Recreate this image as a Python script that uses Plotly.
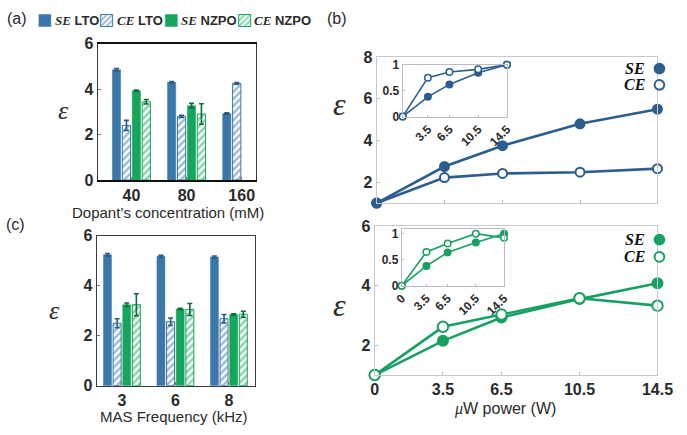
import plotly.graph_objects as go

# ---------------- data ----------------
conc_labels = ["40", "80", "160"]
a_se_lto = [4.85, 4.30, 2.92]
a_se_lto_err = [0.05, 0.03, 0.03]
a_ce_lto = [2.40, 2.80, 4.25]
a_ce_lto_err = [0.22, 0.05, 0.04]
a_se_nzpo = [3.93, 3.27, None]
a_se_nzpo_err = [0.03, 0.10, 0]
a_ce_nzpo = [3.44, 2.90, None]
a_ce_nzpo_err = [0.10, 0.45, 0]

mas_labels = ["3", "6", "8"]
c_se_lto = [5.24, 5.18, 5.15]
c_se_lto_err = [0.05, 0.04, 0.04]
c_ce_lto = [2.50, 2.56, 2.68]
c_ce_lto_err = [0.18, 0.15, 0.17]
c_se_nzpo = [3.24, 3.07, 2.85]
c_se_nzpo_err = [0.07, 0.03, 0.03]
c_ce_nzpo = [3.24, 3.05, 2.86]
c_ce_nzpo_err = [0.44, 0.24, 0.12]

power = [0, 3.5, 6.5, 10.5, 14.5]
power_labels = ["0", "3.5", "6.5", "10.5", "14.5"]
lto_se = [1.0, 2.75, 3.75, 4.80, 5.50]
lto_ce = [1.0, 2.22, 2.42, 2.48, 2.65]
nzpo_se = [1.0, 2.15, 2.93, 3.55, 4.08]
nzpo_ce = [1.0, 2.62, 3.03, 3.58, 3.33]
lto_se_norm = [0, 0.38, 0.62, 0.845, 1.0]
lto_ce_norm = [0, 0.75, 0.86, 0.91, 1.0]
nzpo_se_norm = [0, 0.38, 0.64, 0.83, 1.0]
nzpo_ce_norm = [0, 0.65, 0.81, 1.0, 0.92]

# ---------------- style ----------------
W, H = 687, 435
BAR_BLUE = "#3b78a9"
BAR_GREEN = "#15a65c"
ERR_BLUE = "#2b5a85"
ERR_GREEN = "#0d6b3c"
LINE_BLUE = "#2c5d8e"
LINE_GREEN = "#18a062"
SANS = "Liberation Sans"
SERIF = "Liberation Serif"
TXT = "#2a2a2a"


def px(x):
    return x / W


def py(y):
    return 1 - y / H


fig = go.Figure()


def add_bars(xaxis, yaxis, cats, vals, errs, name, color, errcolor, hatched, legend, showlegend):
    if hatched:
        marker = dict(color="white",
                      pattern=dict(shape="/", fgcolor=color, bgcolor="white", size=5, solidity=0.5),
                      line=dict(color=color, width=1))
    else:
        marker = dict(color=color, line=dict(color=color, width=0.5))
    fig.add_trace(go.Bar(
        x=cats, y=vals, name=name, marker=marker,
        error_y=dict(type="data", array=errs, color=errcolor, thickness=1.6, width=2.5),
        xaxis=xaxis, yaxis=yaxis, legend=legend, showlegend=showlegend,
    ))


se = f'<span style="font-family:{SERIF}"><b><i>SE</i></b></span>'
ce = f'<span style="font-family:{SERIF}"><b><i>CE</i></b></span>'
series_names = [f"{se} <b>LTO</b>", f"{ce} <b>LTO</b>", f"{se} <b>NZPO</b>", f"{ce} <b>NZPO</b>"]

# legend swatches only (text is placed as annotations for tight spacing)
add_bars("x", "y", conc_labels, a_se_lto, a_se_lto_err, " ", BAR_BLUE, ERR_BLUE, False, "legend", True)
add_bars("x", "y", conc_labels, a_ce_lto, a_ce_lto_err, " ", BAR_BLUE, ERR_BLUE, True, "legend2", True)
add_bars("x", "y", conc_labels, a_se_nzpo, a_se_nzpo_err, " ", BAR_GREEN, ERR_GREEN, False, "legend3", True)
add_bars("x", "y", conc_labels, a_ce_nzpo, a_ce_nzpo_err, " ", BAR_GREEN, ERR_GREEN, True, "legend4", True)

add_bars("x2", "y2", mas_labels, c_se_lto, c_se_lto_err, " ", BAR_BLUE, ERR_BLUE, False, "legend", False)
add_bars("x2", "y2", mas_labels, c_ce_lto, c_ce_lto_err, " ", BAR_BLUE, ERR_BLUE, True, "legend", False)
add_bars("x2", "y2", mas_labels, c_se_nzpo, c_se_nzpo_err, " ", BAR_GREEN, ERR_GREEN, False, "legend", False)
add_bars("x2", "y2", mas_labels, c_ce_nzpo, c_ce_nzpo_err, " ", BAR_GREEN, ERR_GREEN, True, "legend", False)


def add_line(xaxis, yaxis, yvals, color, filled, size, lw):
    fig.add_trace(go.Scatter(
        x=power, y=yvals, mode="lines+markers", showlegend=False,
        line=dict(color=color, width=lw),
        marker=dict(size=size, color=color if filled else "white",
                    line=dict(color=color, width=2 if size > 7 else 1.5)),
        xaxis=xaxis, yaxis=yaxis, cliponaxis=False,
    ))


add_line("x3", "y3", lto_ce, LINE_BLUE, False, 9, 2.6)
add_line("x3", "y3", lto_se, LINE_BLUE, True, 9, 2.6)
add_line("x4", "y4", nzpo_se, LINE_GREEN, True, 10, 2.6)
add_line("x4", "y4", nzpo_ce, LINE_GREEN, False, 10.5, 2.6)
add_line("x5", "y5", lto_se_norm, LINE_BLUE, True, 6.5, 1.6)
add_line("x5", "y5", lto_ce_norm, LINE_BLUE, False, 6.5, 1.6)
add_line("x6", "y6", nzpo_se_norm, LINE_GREEN, True, 6.5, 1.6)
add_line("x6", "y6", nzpo_ce_norm, LINE_GREEN, False, 6.5, 1.6)

# ---------------- axes ----------------
bar_axis_common = dict(showline=True, linecolor="#3a3a3a", linewidth=1.4, mirror=True,
                       ticks="inside", ticklen=3, tickcolor="#777", showgrid=False, zeroline=False,
                       tickfont=dict(family=SANS, size=16, color=TXT, weight="bold"))
b_axis_common = dict(showline=True, linecolor="#c9c9c9", linewidth=1, mirror=True,
                     ticks="inside", ticklen=3, tickcolor="#bdbdbd", showgrid=False, zeroline=False,
                     tickfont=dict(family=SANS, size=16, color=TXT, weight="bold"))
inset_common = dict(showline=True, linecolor="#bdbdbd", linewidth=1, mirror=True,
                    ticks="inside", ticklen=2, tickcolor="#bdbdbd", showgrid=False, zeroline=False,
                    tickfont=dict(family=SANS, size=12, color=TXT, weight="bold"))

fig.update_layout(
    xaxis=dict(domain=[px(93), px(257)], anchor="y", type="category", range=[-0.61, 2.26], **bar_axis_common),
    yaxis=dict(domain=[py(179), py(37)], anchor="x", range=[0, 6], tickvals=[0, 2, 4, 6], **bar_axis_common),
    xaxis2=dict(domain=[px(92), px(256)], anchor="y2", type="category", range=[-0.47, 2.49], **bar_axis_common),
    yaxis2=dict(domain=[py(393), py(237)], anchor="x2", range=[0, 6], tickvals=[0, 2, 4, 6], **bar_axis_common),
    xaxis3=dict(domain=[px(382), px(673)], anchor="y3", range=[0, 14.5], tickvals=power,
                showticklabels=False, **b_axis_common),
    yaxis3=dict(domain=[py(203), py(51)], anchor="x3", range=[1, 8], tickvals=[2, 4, 6, 8], **b_axis_common),
    xaxis4=dict(domain=[px(380), px(673)], anchor="y4", range=[0, 14.5], tickvals=power,
                ticktext=power_labels, **b_axis_common),
    yaxis4=dict(domain=[py(382), py(227)], anchor="x4", range=[1, 6], tickvals=[2, 4, 6], **b_axis_common),
    xaxis5=dict(domain=[px(409), px(517)], anchor="y5", range=[0, 14.5], tickvals=power[1:],
                ticktext=power_labels[1:], tickangle=-45, **inset_common),
    yaxis5=dict(domain=[py(113), py(59)], anchor="x5", range=[0, 1], tickvals=[0, 0.5, 1],
                ticktext=["0", "0.5", "1"], **inset_common),
    xaxis6=dict(domain=[px(408), px(514)], anchor="y6", range=[0, 14.5], tickvals=power,
                ticktext=power_labels, tickangle=-45, **inset_common),
    yaxis6=dict(domain=[py(289), py(230)], anchor="x6", range=[0, 1.09], tickvals=[0, 0.5, 1],
                ticktext=["0", "0.5", "1"], **inset_common),
    barmode="group", bargap=0.28, bargroupgap=0.17,
    width=W, height=H, margin=dict(l=0, r=0, t=0, b=0),
    paper_bgcolor="white", plot_bgcolor="white",
    font=dict(family=SANS, color=TXT),
)
fig.update_xaxes(showline=True, linecolor="#111", linewidth=2, selector=dict(anchor="y"))

# legend swatches for panel (a) bars
leg_centers = [37.5, 101.5, 168.5, 244.5]
leg_text_x = [48, 112, 178, 254]
for i, key in enumerate(["legend", "legend2", "legend3", "legend4"]):
    fig.update_layout({key: dict(x=px(leg_centers[i] - 20), y=py(13), xanchor="left", yanchor="middle",
                                 orientation="h", bgcolor="rgba(0,0,0,0)", borderwidth=0,
                                 font=dict(family=SANS, size=12, color=TXT))})

# ---------------- annotations ----------------
ann = []


def text(x, y, s, size, xanchor="center", family=SANS, color=TXT):
    ann.append(dict(x=px(x), y=py(y), xref="paper", yref="paper", text=s, showarrow=False,
                    xanchor=xanchor, yanchor="middle", font=dict(family=family, size=size, color=color)))


for i in range(4):
    ann.append(dict(x=px(leg_text_x[i] - 1), y=py(13), xref="paper", yref="paper", text=series_names[i],
                    showarrow=False, xanchor="left", yanchor="middle",
                    font=dict(family=SANS, size=13, color=TXT)))

text(9, 11, "(a)", 16)
text(341, 11, "(b)", 16)
text(8, 225, "(c)", 16)
text(166, 213, "Dopant’s concentration (mM)", 15)
text(172, 425, "MAS Frequency (kHz)", 15)
text(515, 417, f'<span style="font-family:{SERIF}"><i>μ</i></span>W power (W)', 16)
text(57, 107, "<i>ε</i>", 26, family=SERIF)
text(48, 315, "<i>ε</i>", 26, family=SERIF)
text(343, 100, "<i>ε</i>", 32, family=SERIF)
text(343, 309, "<i>ε</i>", 32, family=SERIF)
for yy, lab in [(63, "SE"), (80, "CE"), (241, "SE"), (259, "CE")]:
    text(662, yy, f"<b><i>{lab}</i></b>", 16, xanchor="right", family=SERIF, color="#111")

shapes = []
for yy, col, filled in [(63, LINE_BLUE, True), (80, LINE_BLUE, False),
                        (241, LINE_GREEN, True), (259, LINE_GREEN, False)]:
    r = 5
    shapes.append(dict(type="circle", xref="paper", yref="paper",
                       x0=px(675 - r), x1=px(675 + r), y0=py(yy + r), y1=py(yy - r),
                       fillcolor=col if filled else "white", line=dict(color=col, width=2)))

fig.update_layout(annotations=ann, shapes=shapes)
fig.write_html("out.html")
